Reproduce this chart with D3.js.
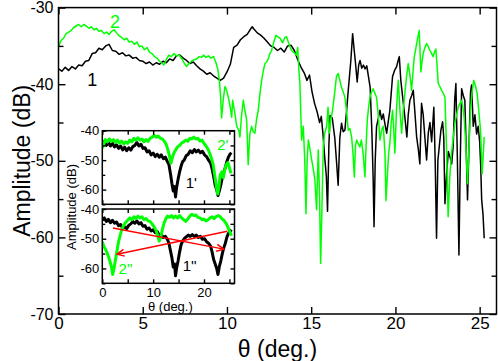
<!DOCTYPE html>
<html><head><meta charset="utf-8">
<script src="https://cdn.jsdelivr.net/npm/d3@7"></script>
<style>
html,body{margin:0;padding:0;background:#fff;}
text{font-family:"Liberation Sans",Arial,Helvetica,sans-serif;}
</style></head>
<body>
<svg id="c" width="498" height="361"></svg>
<script>
// ---------------- DATA ----------------
const xTicksMain = [0,5,10,15,20,25];
const yTicksMain = [-70,-60,-50,-40,-30];
const yMinorMain = [-65,-55,-45,-35];
const xTicksInset = [0,10,20];
const xMinorInset = [5,15,25];
const yTicksInset = [-60,-50,-40];
const yMinorInset = [-65,-55,-45];

// curve 1 (black) [theta, amplitude dB]
const curve1 = [[0,-38.0],[0.2,-38.3],[0.4,-37.8],[0.6,-38.2],[0.8,-37.7],[1.0,-38.0],[1.2,-37.5],[1.4,-37.6],[1.6,-37.0],[1.8,-36.9],[2.0,-36.0],[2.2,-35.9],[2.4,-35.3],[2.6,-35.5],[2.8,-35.0],[3.0,-34.8],[3.2,-35.6],[3.4,-35.7],[3.6,-36.1],[3.8,-35.9],[4.0,-36.3],[4.2,-36.2],[4.4,-36.6],[4.6,-36.5],[4.8,-36.9],[5.0,-37.0],[5.2,-37.3],[5.4,-37.1],[5.6,-37.5],[5.8,-37.2],[6.0,-37.4],[6.2,-37.0],[6.4,-37.2],[6.6,-36.7],[6.8,-36.9],[7.0,-36.3],[7.2,-36.2],[7.4,-36.6],[7.6,-36.9],[7.8,-37.3],[8.0,-37.1],[8.2,-37.6],[8.4,-38.0],[8.6,-38.3],[8.8,-38.7],[9.0,-38.5],[9.2,-38.9],[9.4,-39.2],[9.6,-39.5],[9.8,-39.2],[10.0,-38.4],[10.2,-37.4],[10.4,-35.2],[10.6,-34.9],[10.8,-34.2],[11.0,-33.8],[11.2,-33.5],[11.4,-32.8],[11.5,-32.5],[11.6,-32.8],[11.8,-33.3],[12.0,-33.6],[12.2,-34.0],[12.4,-34.5],[12.6,-35.0],[12.8,-35.2],[13.0,-35.6],[13.2,-35.3],[13.4,-35.8],[13.6,-35.0],[13.8,-34.9],[14.0,-35.6],[14.2,-36.8],[14.4,-37.8],[14.6,-38.6],[14.75,-39.5],[14.9,-38.8],[15.05,-41.0],[15.2,-42.5],[15.35,-43.6],[15.5,-45.0],[15.6,-44.2],[15.7,-46.5],[15.8,-49.5],[15.9,-52.0],[15.97,-56.6],[16.05,-48.0],[16.12,-44.1],[16.25,-44.4],[16.4,-47.0],[16.5,-50.0],[16.6,-53.2],[16.7,-47.0],[16.8,-45.1],[16.9,-46.2],[17.0,-46.0],[17.1,-43.5],[17.2,-40.8],[17.35,-37.0],[17.46,-33.4],[17.55,-35.5],[17.62,-37.0],[17.73,-39.7],[17.82,-37.5],[17.9,-36.9],[18.0,-37.9],[18.1,-37.5],[18.2,-38.0],[18.3,-37.6],[18.4,-39.0],[18.5,-40.4],[18.6,-46.0],[18.68,-52.5],[18.73,-58.6],[18.8,-50.0],[18.88,-45.5],[18.98,-44.5],[19.08,-43.4],[19.18,-44.6],[19.28,-43.9],[19.38,-45.2],[19.48,-46.4],[19.58,-44.8],[19.67,-43.4],[19.75,-41.2],[19.83,-39.0],[19.95,-38.2],[20.07,-37.7],[20.15,-37.0],[20.23,-36.4],[20.32,-39.5],[20.42,-41.5],[20.56,-44.3],[20.68,-46.9],[20.76,-44.0],[20.86,-42.1],[20.96,-41.5],[21.06,-40.8],[21.16,-43.8],[21.26,-46.9],[21.36,-48.5],[21.45,-50.4],[21.55,-42.5],[21.65,-44.0],[21.75,-47.0],[21.85,-49.9],[21.95,-46.4],[22.05,-45.0],[22.15,-47.5],[22.28,-43.0],[22.36,-50.0],[22.44,-60.1],[22.52,-50.0],[22.6,-48.2],[22.7,-46.0],[22.8,-44.9],[22.87,-47.0],[22.94,-55.6],[23.04,-51.7],[23.14,-48.8],[23.24,-49.5],[23.34,-50.4],[23.43,-48.0],[23.52,-42.0],[23.59,-39.9],[23.68,-50.0],[23.77,-62.3],[23.85,-50.0],[23.93,-40.6],[24.03,-41.5],[24.12,-42.1],[24.22,-50.0],[24.28,-55.1],[24.38,-47.0],[24.46,-41.0],[24.52,-40.1],[24.62,-45.5],[24.72,-44.0],[24.82,-46.5],[24.91,-45.5],[25.0,-47.5],[25.06,-50.5],[25.12,-55.1],[25.2,-57.0],[25.27,-60.1]];

// curve 2 (green)
const curve2 = [[0,-35.1],[0.15,-34.3],[0.3,-34.0],[0.45,-33.4],[0.6,-33.2],[0.75,-33.0],[0.9,-32.6],[1.05,-32.4],[1.2,-32.2],[1.35,-32.5],[1.5,-32.2],[1.65,-32.4],[1.8,-32.7],[1.95,-32.5],[2.1,-32.9],[2.25,-32.7],[2.4,-33.1],[2.55,-33.0],[2.7,-33.4],[2.85,-33.2],[3.0,-33.5],[3.15,-33.1],[3.3,-32.9],[3.45,-33.3],[3.6,-33.7],[3.75,-33.9],[3.9,-34.2],[4.05,-34.0],[4.2,-34.5],[4.35,-34.4],[4.5,-34.8],[4.65,-34.5],[4.8,-35.1],[4.95,-35.0],[5.1,-35.5],[5.25,-35.2],[5.4,-35.8],[5.55,-36.0],[5.7,-36.4],[5.85,-36.6],[6.0,-37.0],[6.15,-37.3],[6.25,-37.5],[6.4,-36.8],[6.55,-36.2],[6.7,-36.4],[6.85,-36.0],[7.0,-36.3],[7.15,-36.2],[7.3,-36.6],[7.45,-37.2],[7.6,-37.7],[7.75,-37.3],[7.9,-37.0],[8.05,-36.8],[8.2,-36.7],[8.35,-36.4],[8.5,-36.5],[8.6,-36.2],[8.75,-36.5],[8.9,-36.3],[9.05,-36.6],[9.2,-36.4],[9.35,-37.2],[9.45,-38.0],[9.55,-39.5],[9.62,-41.5],[9.68,-44.4],[9.78,-42.0],[9.88,-40.3],[9.98,-40.8],[10.08,-41.7],[10.18,-42.8],[10.28,-44.3],[10.34,-42.1],[10.45,-43.5],[10.58,-45.5],[10.7,-46.0],[10.77,-46.9],[10.87,-44.0],[10.97,-42.1],[11.07,-43.5],[11.17,-44.7],[11.26,-50.5],[11.36,-46.5],[11.46,-45.5],[11.56,-46.2],[11.66,-46.4],[11.76,-44.5],[11.86,-43.4],[11.96,-41.2],[12.06,-39.5],[12.16,-38.2],[12.26,-37.3],[12.36,-37.1],[12.45,-36.7],[12.55,-36.0],[12.65,-35.6],[12.78,-34.5],[12.91,-33.6],[13.0,-33.8],[13.15,-34.0],[13.3,-34.6],[13.44,-33.9],[13.54,-33.8],[13.64,-34.5],[13.74,-35.1],[13.84,-35.6],[13.94,-35.8],[14.04,-36.0],[14.12,-36.2],[14.2,-35.2],[14.28,-38.5],[14.33,-39.9],[14.43,-47.3],[14.53,-45.5],[14.62,-50.0],[14.69,-56.9],[14.76,-50.0],[14.83,-47.3],[14.93,-48.5],[15.03,-49.9],[15.12,-51.0],[15.22,-52.5],[15.32,-56.4],[15.42,-48.6],[15.5,-55.0],[15.56,-63.4],[15.64,-56.0],[15.72,-48.0],[15.8,-46.4],[15.92,-45.5],[16.0,-43.0],[16.07,-46.4],[16.17,-44.5],[16.27,-43.4],[16.41,-40.8],[16.5,-39.0],[16.6,-38.6],[16.7,-39.5],[16.8,-40.4],[16.9,-41.0],[17.0,-41.7],[17.1,-43.5],[17.2,-46.0],[17.3,-45.8],[17.4,-46.9],[17.48,-49.0],[17.56,-52.1],[17.63,-48.0],[17.7,-47.3],[17.8,-47.8],[17.89,-48.2],[17.98,-47.3],[18.08,-49.0],[18.19,-52.1],[18.26,-48.0],[18.33,-44.7],[18.41,-43.0],[18.49,-41.7],[18.58,-41.0],[18.68,-40.6],[18.78,-41.2],[18.88,-41.7],[18.98,-44.0],[19.08,-47.3],[19.18,-46.0],[19.28,-45.5],[19.38,-49.0],[19.44,-55.2],[19.52,-52.0],[19.6,-49.0],[19.67,-47.7],[19.75,-45.0],[19.83,-43.4],[19.9,-46.0],[19.97,-49.0],[20.05,-44.0],[20.12,-41.0],[20.17,-39.5],[20.27,-43.5],[20.37,-46.4],[20.46,-43.5],[20.56,-41.2],[20.66,-39.0],[20.76,-37.3],[20.86,-38.8],[20.96,-40.8],[21.04,-38.5],[21.12,-36.4],[21.2,-35.5],[21.26,-34.7],[21.34,-33.8],[21.41,-33.0],[21.46,-35.5],[21.51,-38.4],[21.58,-37.0],[21.65,-36.0],[21.75,-35.2],[21.85,-34.7],[21.95,-35.1],[22.05,-35.6],[22.15,-36.0],[22.24,-36.4],[22.32,-35.8],[22.4,-35.4],[22.47,-37.5],[22.54,-39.9],[22.64,-40.3],[22.74,-40.8],[22.84,-41.2],[22.94,-41.7],[23.03,-48.0],[23.13,-57.3],[23.23,-52.0],[23.33,-49.0],[23.43,-47.0],[23.53,-45.1],[23.63,-44.0],[23.73,-43.0],[23.83,-42.5],[23.93,-42.1],[24.0,-43.0],[24.08,-44.3],[24.18,-48.0],[24.28,-53.0],[24.37,-48.0],[24.46,-43.4],[24.55,-41.0],[24.65,-39.5],[24.75,-40.2],[24.85,-41.2],[24.95,-43.5],[25.05,-46.0],[25.15,-51.7],[25.27,-46.9]];

// inset top panel
const curve1p = [[0,-44.5],[0.4,-43.6],[0.8,-45.0],[1.2,-44.0],[1.6,-45.2],[2.0,-44.3],[2.4,-45.5],[2.8,-44.8],[3.2,-46.0],[3.6,-45.2],[4.0,-46.5],[4.4,-45.6],[4.8,-46.8],[5.2,-45.8],[5.6,-46.6],[6.0,-45.4],[6.4,-45.0],[6.8,-44.0],[7.2,-45.2],[7.6,-44.6],[8.0,-46.0],[8.4,-45.8],[8.8,-47.2],[9.2,-46.8],[9.6,-48.2],[10.0,-47.6],[10.4,-48.8],[10.8,-48.0],[11.2,-49.0],[11.6,-48.2],[12.0,-49.5],[12.4,-49.0],[12.8,-50.5],[13.1,-51.5],[13.4,-54.5],[13.7,-58.0],[13.95,-60.5],[14.2,-59.0],[14.4,-62.5],[14.6,-59.5],[14.9,-56.5],[15.2,-54.0],[15.5,-52.0],[15.8,-50.5],[16.1,-50.0],[16.5,-48.5],[16.9,-48.0],[17.3,-46.8],[17.7,-47.5],[18.1,-46.4],[18.5,-47.2],[18.9,-46.6],[19.3,-47.5],[19.7,-47.0],[20.1,-48.2],[20.5,-48.8],[20.9,-50.0],[21.3,-51.0],[21.6,-53.0],[21.9,-55.5],[22.2,-58.5],[22.5,-60.0],[22.75,-62.0],[23.0,-60.5],[23.3,-58.5],[23.6,-56.0],[23.9,-54.0],[24.2,-52.5],[24.5,-50.5],[24.8,-49.0],[25.1,-48.0],[25.4,-47.5]];
const curve2p = [[0,-46.0],[0.3,-44.5],[0.6,-43.0],[1.0,-43.8],[1.4,-42.8],[1.8,-43.6],[2.2,-43.0],[2.6,-44.0],[3.0,-43.2],[3.4,-44.2],[3.8,-43.5],[4.2,-44.5],[4.6,-43.8],[5.0,-44.3],[5.4,-43.2],[5.8,-43.8],[6.2,-42.6],[6.6,-43.2],[7.0,-42.4],[7.4,-43.2],[7.8,-42.8],[8.2,-43.8],[8.6,-43.0],[9.0,-43.6],[9.4,-42.6],[9.8,-42.2],[10.2,-41.6],[10.6,-42.2],[11.0,-41.8],[11.4,-42.6],[11.8,-42.8],[12.2,-43.6],[12.6,-44.8],[12.9,-46.5],[13.2,-48.5],[13.5,-51.0],[13.8,-49.0],[14.1,-47.5],[14.4,-46.6],[14.8,-45.5],[15.2,-45.0],[15.6,-44.2],[16.0,-43.8],[16.4,-43.2],[16.8,-43.6],[17.2,-42.6],[17.6,-42.8],[18.0,-42.2],[18.4,-42.8],[18.8,-42.6],[19.2,-43.5],[19.6,-43.2],[20.0,-44.3],[20.4,-45.2],[20.8,-46.3],[21.2,-48.0],[21.5,-49.5],[21.8,-51.5],[22.1,-55.0],[22.4,-58.5],[22.7,-61.5],[22.95,-59.0],[23.2,-55.0],[23.5,-54.0],[23.8,-56.0],[24.1,-53.0],[24.4,-51.5],[24.7,-50.8],[25.0,-52.5],[25.3,-54.5]];

// inset bottom panel
const curve1pp = [[0,-43.8],[0.4,-43.0],[0.8,-44.2],[1.2,-43.5],[1.6,-44.6],[2.0,-43.8],[2.4,-44.8],[2.8,-44.4],[3.2,-45.6],[3.6,-45.2],[4.0,-46.4],[4.4,-46.0],[4.8,-46.6],[5.2,-45.5],[5.6,-45.0],[6.0,-44.2],[6.4,-44.8],[6.8,-44.0],[7.2,-45.0],[7.6,-44.6],[8.0,-45.8],[8.4,-45.6],[8.8,-46.8],[9.2,-46.4],[9.6,-47.4],[10.0,-47.0],[10.4,-48.0],[10.8,-47.6],[11.2,-48.8],[11.6,-48.6],[12.0,-49.6],[12.4,-49.2],[12.8,-50.2],[13.1,-51.5],[13.4,-54.0],[13.7,-56.5],[13.95,-59.5],[14.2,-58.5],[14.4,-62.5],[14.6,-60.0],[14.9,-57.5],[15.2,-54.5],[15.5,-52.0],[15.8,-50.8],[16.1,-50.0],[16.5,-49.4],[16.9,-48.8],[17.3,-49.2],[17.7,-48.6],[18.1,-49.2],[18.5,-48.8],[18.9,-49.6],[19.3,-49.2],[19.7,-50.2],[20.1,-50.0],[20.5,-51.0],[20.9,-51.5],[21.3,-52.5],[21.6,-54.5],[21.9,-57.0],[22.2,-58.5],[22.5,-60.0],[22.75,-62.0],[23.0,-59.5],[23.3,-57.5],[23.6,-55.0],[23.9,-53.0],[24.2,-51.5],[24.5,-49.5],[24.8,-48.2],[25.1,-47.6],[25.4,-47.0]];
const curve2pp = [[0,-51.0],[0.3,-52.5],[0.6,-53.5],[0.9,-54.5],[1.2,-56.0],[1.5,-57.5],[1.8,-59.5],[2.05,-62.0],[2.3,-60.0],[2.6,-57.0],[2.9,-54.0],[3.2,-51.0],[3.5,-49.0],[3.8,-47.0],[4.2,-45.5],[4.6,-44.5],[5.0,-43.8],[5.4,-43.0],[5.8,-43.6],[6.2,-42.6],[6.6,-43.2],[7.0,-42.4],[7.4,-43.0],[7.8,-42.6],[8.2,-43.6],[8.6,-43.2],[9.0,-44.0],[9.4,-44.2],[9.8,-45.0],[10.2,-46.0],[10.6,-47.3],[10.9,-49.0],[11.2,-50.8],[11.5,-49.5],[11.8,-47.0],[12.1,-45.0],[12.4,-43.6],[12.8,-42.4],[13.2,-42.8],[13.6,-42.2],[14.0,-43.0],[14.4,-42.4],[14.8,-43.0],[15.2,-42.2],[15.6,-43.0],[16.0,-43.6],[16.4,-44.2],[16.8,-43.4],[17.2,-42.4],[17.6,-41.8],[18.0,-42.2],[18.4,-42.0],[18.8,-42.8],[19.2,-43.0],[19.6,-43.6],[20.0,-43.4],[20.4,-44.0],[20.8,-43.6],[21.2,-43.0],[21.6,-42.6],[22.0,-43.2],[22.4,-42.6],[22.8,-42.2],[23.2,-42.6],[23.6,-43.4],[24.0,-44.0],[24.4,-45.0],[24.8,-46.5],[25.1,-47.8],[25.4,-49.0]];

// red arrows in bottom inset: [from, to(head)]
const arrows = [[[2.1,-46.4],[23.9,-53.5]],[[24.6,-47.5],[2.9,-55.2]]];

// ---------------- DRAW ----------------
const svg = d3.select('#c');
const GREEN = '#00ff00';
const fmt = d => String(d);

const x = d3.scaleLinear([0,26],[58.5,496.5]);
const y = d3.scaleLinear([-70,-30],[314,7.6]);

const line = (sx, sy) => d3.line().x(d=>sx(d[0])).y(d=>sy(d[1]));

// main curves
svg.append('path').attr('d', line(x,y)(curve1)).attr('fill','none').attr('stroke','#000').attr('stroke-width',1.5).attr('stroke-linejoin','round');
svg.append('path').attr('d', line(x,y)(curve2)).attr('fill','none').attr('stroke',GREEN).attr('stroke-width',1.5).attr('stroke-linejoin','round');

function styleAxis(g, fs){
  g.select('.domain').remove();
  g.selectAll('line').attr('stroke','#000').attr('stroke-width',1.4);
  g.selectAll('text').attr('font-size',fs).attr('fill','#000').attr('font-family','"Liberation Sans",Arial,sans-serif');
}

// main axes
const gB = svg.append('g').attr('transform','translate(0,314)')
  .call(d3.axisBottom(x).tickValues(xTicksMain).tickFormat(fmt).tickSizeInner(-7).tickSizeOuter(0).tickPadding(3));
styleAxis(gB,17);
const gT = svg.append('g').attr('transform',`translate(0,${y(-30)})`)
  .call(d3.axisTop(x).tickValues(xTicksMain).tickFormat(()=>'').tickSizeInner(-7).tickSizeOuter(0));
styleAxis(gT,17);
const gL = svg.append('g').attr('transform','translate(58.5,0)')
  .call(d3.axisLeft(y).tickValues(yTicksMain).tickFormat(fmt).tickSizeInner(-7).tickSizeOuter(0).tickPadding(5));
styleAxis(gL,16);
const gLm = svg.append('g').attr('transform','translate(58.5,0)')
  .call(d3.axisLeft(y).tickValues(yMinorMain).tickFormat(()=>'').tickSizeInner(-5).tickSizeOuter(0));
styleAxis(gLm,16);
const gR = svg.append('g').attr('transform','translate(496.5,0)')
  .call(d3.axisRight(y).tickValues(yTicksMain).tickFormat(()=>'').tickSizeInner(-7).tickSizeOuter(0));
styleAxis(gR,16);
const gRm = svg.append('g').attr('transform','translate(496.5,0)')
  .call(d3.axisRight(y).tickValues(yMinorMain).tickFormat(()=>'').tickSizeInner(-5).tickSizeOuter(0));
styleAxis(gRm,16);

svg.append('rect').attr('x',x(0)).attr('y',y(-30)).attr('width',x(26)-x(0)).attr('height',y(-70)-y(-30))
  .attr('fill','none').attr('stroke','#000').attr('stroke-width',1.5);

// main titles
svg.append('text').attr('x',(x(0)+x(26))/2).attr('y',357).attr('text-anchor','middle').attr('font-size',23).text('θ (deg.)');
svg.append('text').attr('transform',`translate(30,${(y(-30)+y(-70))/2}) rotate(-90)`).attr('text-anchor','middle').attr('font-size',23).text('Amplitude (dB)');

// curve labels
svg.append('text').attr('x',x(2.0)).attr('y',y(-40.2)).attr('text-anchor','middle').attr('font-size',18).attr('fill','#000').text('1');
svg.append('text').attr('x',x(3.35)).attr('y',y(-32.6)).attr('text-anchor','middle').attr('font-size',18).attr('fill',GREEN).text('2');

// ---------------- INSET ----------------
const xi = d3.scaleLinear([0,26],[102.3,234.5]);
const panels = [
  {y: d3.scaleLinear([-65,-40],[204.3,130.7]), c1: curve1p, c2: curve2p},
  {y: d3.scaleLinear([-65,-40],[283.3,209]), c1: curve1pp, c2: curve2pp}
];
const defs = svg.append('defs');
panels.forEach((p,i)=>{
  const r = [p.y(-40), p.y(-65)];
  defs.append('clipPath').attr('id','clip'+i).append('rect')
    .attr('x',xi(0)).attr('y',r[0]).attr('width',xi(26)-xi(0)).attr('height',r[1]-r[0]);
  svg.append('rect').attr('x',xi(0)).attr('y',r[0]).attr('width',xi(26)-xi(0)).attr('height',r[1]-r[0]).attr('fill','#fff');
  const g = svg.append('g').attr('clip-path',`url(#clip${i})`);
  g.append('path').attr('d', line(xi,p.y)(p.c1)).attr('fill','none').attr('stroke','#000').attr('stroke-width',3).attr('stroke-linejoin','round');
  g.append('path').attr('d', line(xi,p.y)(p.c2)).attr('fill','none').attr('stroke',GREEN).attr('stroke-width',3).attr('stroke-linejoin','round');

  const aL = svg.append('g').attr('transform',`translate(${xi(0)},0)`)
    .call(d3.axisLeft(p.y).tickValues(yTicksInset).tickFormat(fmt).tickSizeInner(-4).tickSizeOuter(0).tickPadding(3));
  styleAxis(aL,13);
  const aLm = svg.append('g').attr('transform',`translate(${xi(0)},0)`)
    .call(d3.axisLeft(p.y).tickValues(yMinorInset).tickFormat(()=>'').tickSizeInner(-3).tickSizeOuter(0));
  styleAxis(aLm,13);
  const aR = svg.append('g').attr('transform',`translate(${xi(26)},0)`)
    .call(d3.axisRight(p.y).tickValues(yTicksInset.concat(yMinorInset)).tickFormat(()=>'').tickSizeInner(-4).tickSizeOuter(0));
  styleAxis(aR,13);
  const aT = svg.append('g').attr('transform',`translate(0,${r[0]})`)
    .call(d3.axisTop(xi).tickValues(xTicksInset.concat(xMinorInset)).tickFormat(()=>'').tickSizeInner(-4).tickSizeOuter(0));
  styleAxis(aT,13);
  const aB = svg.append('g').attr('transform',`translate(0,${r[1]})`)
    .call(d3.axisBottom(xi).tickValues(xTicksInset).tickFormat(i===1?fmt:()=>'').tickSizeInner(-4).tickSizeOuter(0).tickPadding(4));
  styleAxis(aB,13);
  const aBm = svg.append('g').attr('transform',`translate(0,${r[1]})`)
    .call(d3.axisBottom(xi).tickValues(xMinorInset).tickFormat(()=>'').tickSizeInner(-4).tickSizeOuter(0));
  styleAxis(aBm,13);
  svg.append('rect').attr('x',xi(0)).attr('y',r[0]).attr('width',xi(26)-xi(0)).attr('height',r[1]-r[0])
    .attr('fill','none').attr('stroke','#000').attr('stroke-width',1.5);
});

// arrows
const yb = panels[1].y;
const ac = svg.append('g');
arrows.forEach(a=>{
  const x1=xi(a[0][0]), y1=yb(a[0][1]), x2=xi(a[1][0]), y2=yb(a[1][1]);
  ac.append('line').attr('x1',x1).attr('y1',y1).attr('x2',x2).attr('y2',y2).attr('stroke','#ff0000').attr('stroke-width',1.5);
  const ang = Math.atan2(y2-y1,x2-x1), L=8, w=0.45;
  const p1=[x2-L*Math.cos(ang-w), y2-L*Math.sin(ang-w)], p2=[x2-L*Math.cos(ang+w), y2-L*Math.sin(ang+w)];
  ac.append('path').attr('d',`M${p1[0]},${p1[1]}L${x2},${y2}L${p2[0]},${p2[1]}`).attr('fill','none').attr('stroke','#ff0000').attr('stroke-width',1.5);
});

// inset labels
svg.append('text').attr('x',xi(0)+ (xi(26)-xi(0))/2 + 2).attr('y',311).attr('text-anchor','middle').attr('font-size',13).text('θ (deg.)');
svg.append('text').attr('transform',`translate(76,207) rotate(-90)`).attr('text-anchor','middle').attr('font-size',13).text('Amplitude (dB)');
const pt = panels[0].y, pb = panels[1].y;
svg.append('text').attr('x',xi(22.6)).attr('y',pt(-46.5)).attr('font-size',15).attr('fill',GREEN).text("2'");
svg.append('text').attr('x',xi(16.4)).attr('y',pt(-59.5)).attr('font-size',15).attr('fill','#000').text("1'");
svg.append('text').attr('x',xi(3.2)).attr('y',pb(-62.0)).attr('font-size',15).attr('fill',GREEN).text("2''");
svg.append('text').attr('x',xi(15.8)).attr('y',pb(-61.0)).attr('font-size',15).attr('fill','#000').text("1''");
</script>
</body></html>
